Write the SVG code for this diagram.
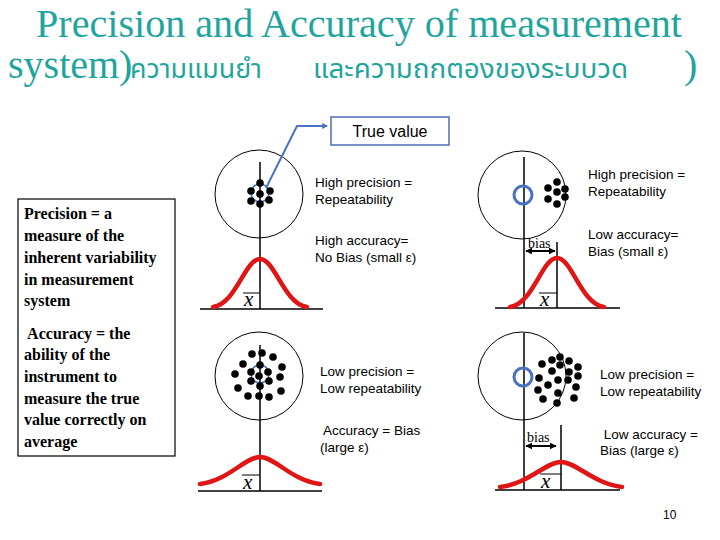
<svg xmlns="http://www.w3.org/2000/svg" width="720" height="540" viewBox="0 0 720 540">
<defs>
<style>
.title{font-family:"Liberation Serif","Times New Roman",serif;font-size:40px;fill:#1fa59d}
.thai{font-family:"Noto Sans Thai","Noto Sans","DejaVu Sans",sans-serif;font-size:26px;fill:#1fa59d}
.lbl{font-family:"Liberation Sans",Arial,sans-serif;font-size:13.5px;fill:#000}
.box{font-family:"Liberation Serif","Times New Roman",serif;font-size:16px;font-weight:bold;fill:#000}
.xb{font-family:"Liberation Serif","Times New Roman",serif;font-size:21px;font-style:italic;fill:#000}
.bias{font-family:"Liberation Serif","Times New Roman",serif;font-size:14px;fill:#000}
.tgt{fill:none;stroke:#000;stroke-width:1}
.ax{stroke:#000;stroke-width:1.5;fill:none}
.bar{stroke:#000;stroke-width:1;fill:none}
.curve{fill:none;stroke:#e01515;stroke-width:4.5;stroke-linecap:round}
.dot{fill:#000}
.tv{fill:none;stroke:#4a72c4;stroke-width:3}
.tvthin{fill:none;stroke:#4a6fb5;stroke-width:1.5}
.arr{stroke:#000;stroke-width:2;fill:none;marker-start:url(#ah);marker-end:url(#ah)}
</style>
<marker id="ah" viewBox="0 0 10 10" refX="9" refY="5" markerWidth="3.5" markerHeight="3.5" orient="auto-start-reverse"><path d="M0,0 L10,5 L0,10 z" fill="#000"/></marker>
<marker id="bh" viewBox="0 0 10 10" refX="8" refY="5" markerWidth="3" markerHeight="3" orient="auto"><path d="M0,0 L10,5 L0,10 z" fill="#4a72c4"/></marker>
</defs>
<rect width="720" height="540" fill="#fff"/>

<g id="title">
<text class="title" x="36" y="37" textLength="646" lengthAdjust="spacingAndGlyphs">Precision and Accuracy of measurement</text>
<text class="title" x="8" y="78">system)</text>
<text class="thai" x="130" y="78" textLength="132" lengthAdjust="spacingAndGlyphs">ความแมนยำ</text>
<text class="thai" x="313" y="78" textLength="315" lengthAdjust="spacingAndGlyphs">และความถกตองของระบบวด</text>
<text class="title" x="684" y="78">)</text>
</g>

<g id="definitions">
<rect x="18" y="199" width="157" height="257" fill="#fff" stroke="#000" stroke-width="1.2"/>
<text class="box" x="24" y="219">Precision = a</text>
<text class="box" x="24" y="241">measure of the</text>
<text class="box" x="24" y="263">inherent variability</text>
<text class="box" x="24" y="285">in measurement</text>
<text class="box" x="24" y="306">system</text>
<text class="box" x="24" y="339" xml:space="preserve"> Accuracy = the</text>
<text class="box" x="24" y="360">ability of the</text>
<text class="box" x="24" y="382">instrument to</text>
<text class="box" x="24" y="404">measure the true</text>
<text class="box" x="24" y="425">value correctly on</text>
<text class="box" x="24" y="447">average</text>
</g>

<g id="true-value">
<rect x="331" y="117" width="118" height="28" fill="#fff" stroke="#4f6fb0" stroke-width="1.5"/>
<text class="lbl" x="390" y="137" text-anchor="middle" style="font-size:16px">True value</text>
</g>

<g id="panel-high-precision-high-accuracy">
<circle class="tgt" cx="259" cy="194" r="44"/>
<line class="ax" x1="260" y1="162" x2="260" y2="309"/>
<line class="ax" x1="200" y1="309" x2="323" y2="309"/>
<circle class="tvthin" cx="260" cy="193" r="9"/>
<g class="dot">
<circle cx="260" cy="183" r="3.8"/><circle cx="251" cy="191" r="3.8"/><circle cx="270" cy="191" r="3.8"/>
<circle cx="260" cy="194" r="3.8"/><circle cx="251" cy="201" r="3.8"/><circle cx="269" cy="200" r="3.8"/>
<circle cx="260" cy="204" r="3.8"/>
</g>
<path class="curve" d="M213,307 C236,304 245,259 260,259 C275,259 284,304 307,307"/>
<line class="bar" x1="243" y1="293" x2="260" y2="293"/>
<text class="xb" x="244" y="306">x</text>
<text class="lbl" x="315" y="187">High precision =</text>
<text class="lbl" x="315" y="204">Repeatability</text>
<text class="lbl" x="315" y="245">High accuracy=</text>
<text class="lbl" x="315" y="262">No Bias (small ε)</text>
</g>

<g id="panel-high-precision-low-accuracy">
<circle class="tgt" cx="522" cy="195" r="44"/>
<line class="ax" x1="524" y1="157" x2="524" y2="308"/>
<line class="ax" x1="557" y1="242" x2="557" y2="308"/>
<line class="ax" x1="495" y1="308" x2="620" y2="308"/>
<circle class="tv" cx="523" cy="195" r="9"/>
<g class="dot">
<circle cx="557" cy="182" r="3.8"/><circle cx="548" cy="188" r="3.8"/><circle cx="557" cy="192" r="3.8"/>
<circle cx="565" cy="189" r="3.8"/><circle cx="548" cy="199" r="3.8"/><circle cx="565" cy="197" r="3.8"/>
<circle cx="557" cy="204" r="3.8"/>
</g>
<text class="bias" x="528" y="248">bias</text>
<line class="arr" x1="526" y1="251" x2="555" y2="251"/>
<path class="curve" d="M510,307 C533,304 542,258 557,258 C572,258 581,304 604,307"/>
<line class="bar" x1="539" y1="293" x2="557" y2="293"/>
<text class="xb" x="540" y="306">x</text>
<text class="lbl" x="588" y="179">High precision =</text>
<text class="lbl" x="588" y="196">Repeatability</text>
<text class="lbl" x="588" y="239">Low accuracy=</text>
<text class="lbl" x="588" y="256">Bias (small ε)</text>
</g>

<g id="panel-low-precision-accuracy">
<circle class="tgt" cx="259" cy="376" r="44"/>
<line class="ax" x1="260" y1="345" x2="260" y2="491"/>
<line class="ax" x1="198" y1="491" x2="322" y2="491"/>
<circle class="tvthin" cx="260" cy="374" r="9"/>
<g class="dot">
<circle cx="252" cy="354" r="3.8"/><circle cx="262" cy="353" r="3.8"/><circle cx="273" cy="357" r="3.8"/>
<circle cx="243" cy="364" r="3.8"/><circle cx="260" cy="365" r="3.8"/><circle cx="282" cy="367" r="3.8"/>
<circle cx="235" cy="374" r="3.8"/><circle cx="251" cy="372" r="3.8"/><circle cx="268" cy="372" r="3.8"/>
<circle cx="259" cy="376" r="3.8"/><circle cx="280" cy="377" r="3.8"/><circle cx="251" cy="381" r="3.8"/>
<circle cx="269" cy="381" r="3.8"/><circle cx="238" cy="388" r="3.8"/><circle cx="260" cy="386" r="3.8"/>
<circle cx="281" cy="391" r="3.8"/><circle cx="248" cy="396" r="3.8"/><circle cx="259" cy="396" r="3.8"/>
<circle cx="269" cy="397" r="3.8"/>
</g>
<path class="curve" d="M200,484 C228,481 245,457 260,457 C275,457 292,481 320,484"/>
<line class="bar" x1="242" y1="475" x2="260" y2="475"/>
<text class="xb" x="243" y="489">x</text>
<text class="lbl" x="320" y="376">Low precision =</text>
<text class="lbl" x="320" y="393">Low repeatability</text>
<text class="lbl" x="320" y="435" xml:space="preserve"> Accuracy = Bias</text>
<text class="lbl" x="320" y="452">(large ε)</text>
</g>

<g id="panel-low-precision-low-accuracy">
<circle class="tgt" cx="522" cy="376" r="44"/>
<line class="ax" x1="524" y1="333" x2="524" y2="490"/>
<line class="ax" x1="561" y1="425" x2="561" y2="490"/>
<line class="ax" x1="495" y1="490" x2="620" y2="490"/>
<circle class="tv" cx="523" cy="377" r="9"/>
<g class="dot">
<circle cx="560" cy="357" r="3.8"/><circle cx="552" cy="360" r="3.8"/><circle cx="569" cy="361" r="3.8"/>
<circle cx="542" cy="364" r="3.8"/><circle cx="560" cy="365" r="3.8"/><circle cx="578" cy="367" r="3.8"/>
<circle cx="552" cy="371" r="3.8"/><circle cx="569" cy="372" r="3.8"/><circle cx="578" cy="376" r="3.8"/>
<circle cx="539" cy="378" r="3.8"/><circle cx="558" cy="380" r="3.8"/><circle cx="568" cy="380" r="3.8"/>
<circle cx="548" cy="385" r="3.8"/><circle cx="576" cy="387" r="3.8"/><circle cx="538" cy="390" r="3.8"/>
<circle cx="558" cy="393" r="3.8"/><circle cx="543" cy="399" r="3.8"/><circle cx="574" cy="398" r="3.8"/>
<circle cx="557" cy="403" r="3.8"/>
</g>
<text class="bias" x="527" y="442">bias</text>
<line class="arr" x1="526" y1="446" x2="556" y2="446"/>
<path class="curve" d="M500,487 C528,484 546,462 561,462 C576,462 594,484 622,487"/>
<line class="bar" x1="540" y1="474" x2="561" y2="474"/>
<text class="xb" x="541" y="488">x</text>
<text class="lbl" x="600" y="379">Low precision =</text>
<text class="lbl" x="600" y="396">Low repeatability</text>
<text class="lbl" x="600" y="439" xml:space="preserve"> Low accuracy =</text>
<text class="lbl" x="600" y="455">Bias (large ε)</text>
</g>

<g id="connectors">
<polyline points="266,188 297,126 327,126" fill="none" stroke="#4a72c4" stroke-width="2" marker-end="url(#bh)"/>
</g>

<text class="lbl" x="663" y="519" style="font-size:12px">10</text>
</svg>
